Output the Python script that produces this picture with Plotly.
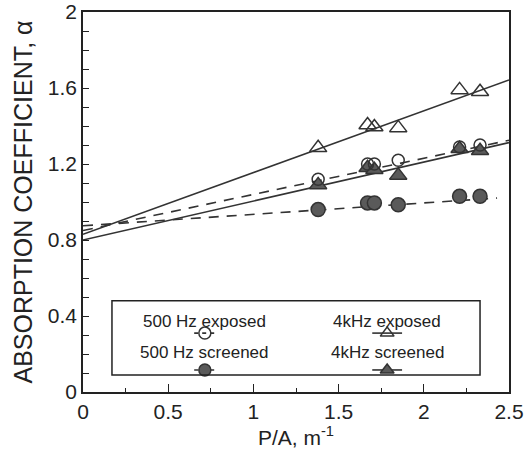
import plotly.graph_objects as go

# Data
pa = [1.38, 1.67, 1.71, 1.85, 2.21, 2.33]
hz500_exposed = [1.12, 1.20, 1.20, 1.22, 1.29, 1.30]
hz500_screened = [0.96, 0.995, 0.995, 0.985, 1.03, 1.03]
khz4_exposed = [1.285, 1.405, 1.395, 1.39, 1.59, 1.58]
khz4_screened = [1.09, 1.18, 1.17, 1.14, 1.28, 1.27]

# Fitted lines (intercept, slope, x-end)
fit_500_exposed = (0.85, 0.19, 2.5)
fit_500_screened = (0.875, 0.06, 2.43)
fit_4k_exposed = (0.83, 0.325, 2.5)
fit_4k_screened = (0.80, 0.205, 2.5)

LINE = "#333333"
FILL = "#5a5a5a"

fig = go.Figure()

def fit_trace(fit, dash):
    a, b, xe = fit
    xs = [0, xe]
    ys = [a + b * x for x in xs]
    return go.Scatter(x=xs, y=ys, mode="lines",
                      line=dict(color=LINE, width=1.6, dash=dash),
                      showlegend=False, hoverinfo="skip")

fig.add_trace(fit_trace(fit_500_exposed, "10px,8px"))
fig.add_trace(fit_trace(fit_500_screened, "10px,8px"))
fig.add_trace(fit_trace(fit_4k_exposed, "solid"))
fig.add_trace(fit_trace(fit_4k_screened, "solid"))

def pts(y, symbol, color, size):
    return go.Scatter(x=pa, y=y, mode="markers",
                      marker=dict(symbol=symbol, size=size, color=color,
                                  line=dict(color="#333333", width=1.5)),
                      showlegend=False)

fig.add_trace(pts(khz4_screened, "triangle-up", FILL, 15))
fig.add_trace(pts(hz500_screened, "circle", FILL, 14))
fig.add_trace(pts(khz4_exposed, "triangle-up-open", "#333333", 15))
fig.add_trace(pts(hz500_exposed, "circle-open", "#333333", 12))

# Legend samples on hidden overlay axes (fractions of plot area)
leg_cols = [0.286, 0.714]
leg_rows_marker = [0.155, 0.058]
leg_half = [0.025, 0.035]

def leg_sample(col, row, symbol, color, dash):
    cx = leg_cols[col]
    cy = leg_rows_marker[row]
    h = leg_half[col]
    fig.add_trace(go.Scatter(x=[cx - h, cx + h], y=[cy, cy], mode="lines",
                             line=dict(color=LINE, width=1.6, dash=dash),
                             xaxis="x2", yaxis="y2", showlegend=False, hoverinfo="skip"))
    fig.add_trace(go.Scatter(x=[cx], y=[cy], mode="markers",
                             marker=dict(symbol=symbol, size=12, color=color,
                                         line=dict(color="#333333", width=1.5)),
                             xaxis="x2", yaxis="y2", showlegend=False, hoverinfo="skip"))

leg_sample(0, 0, "circle-open", "#333333", "4px,4px")
leg_sample(0, 1, "circle", FILL, "4px,4px")
leg_sample(1, 0, "triangle-up-open", "#333333", "solid")
leg_sample(1, 1, "triangle-up", FILL, "solid")

leg_labels = [["500 Hz exposed", "500 Hz screened"], ["4kHz exposed", "4kHz screened"]]
leg_rows_text = [0.186, 0.105]
annotations = []
for c in range(2):
    for r in range(2):
        annotations.append(dict(x=leg_cols[c], y=leg_rows_text[r], xref="paper", yref="paper",
                                text=leg_labels[c][r], showarrow=False,
                                font=dict(size=17, color="#222222"),
                                xanchor="center", yanchor="middle"))

fig.update_layout(
    width=529, height=452,
    margin=dict(l=83, r=20, t=12, b=60),
    paper_bgcolor="white", plot_bgcolor="white",
    font=dict(family="Liberation Sans, Arial, sans-serif", color="#222222"),
    annotations=annotations,
    shapes=[dict(type="rect", xref="paper", yref="paper",
                 x0=0.068, x1=0.932, y0=0.045, y1=0.24,
                 line=dict(color="#222222", width=1.5), fillcolor="rgba(0,0,0,0)")],
    xaxis=dict(range=[0, 2.5], tickvals=[0, 0.5, 1, 1.5, 2, 2.5],
               ticktext=["0", "0.5", "1", "1.5", "2", "2.5"],
               ticks="inside", ticklen=8, tickwidth=1.2, tickcolor="#222222",
               minor=dict(dtick=0.25, ticks="inside", ticklen=4, tickcolor="#222222"),
               showgrid=False, zeroline=False, showline=True, mirror=True,
               linecolor="#222222", linewidth=1.6, automargin=False,
               tickfont=dict(size=21),
               title=dict(text="P/A, m<sup>-1</sup>", font=dict(size=21), standoff=0)),
    yaxis=dict(range=[0, 2], tickvals=[0, 0.4, 0.8, 1.2, 1.6, 2],
               ticktext=["0", "0.4", "0.8", "1.2", "1.6", "2"],
               ticks="inside", ticklen=6, tickwidth=1.2, tickcolor="#222222",
               minor=dict(dtick=0.1, ticks="inside", ticklen=6, tickcolor="#222222"),
               showgrid=False, zeroline=False, showline=True, mirror=True,
               linecolor="#222222", linewidth=1.6, automargin=False,
               tickfont=dict(size=21),
               title=dict(text="ABSORPTION COEFFICIENT, α", font=dict(size=25), standoff=8)),
    xaxis2=dict(range=[0, 1], overlaying="x", visible=False, fixedrange=True),
    yaxis2=dict(range=[0, 1], overlaying="y", visible=False, fixedrange=True),
)

fig.write_html("out.html")
